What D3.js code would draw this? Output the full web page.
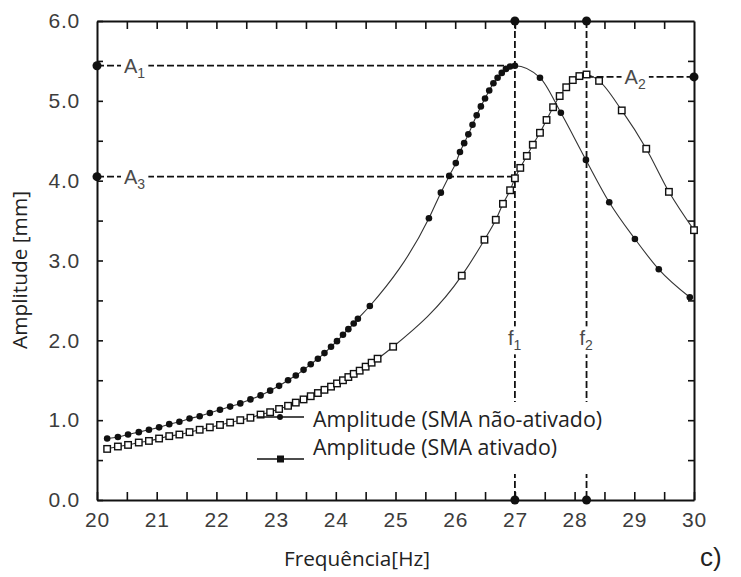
<!DOCTYPE html>
<html>
<head>
<meta charset="utf-8">
<script src="https://cdn.jsdelivr.net/npm/d3@7"></script>
<style>
  body { margin: 0; background: #fff; }
  svg { display: block; }
</style>
</head>
<body>
<svg id="chart" width="741" height="577"></svg>
<script>
// ---------- data ----------
const freqNaoAtivado = [20.17,20.35,20.52,20.7,20.87,21.04,21.21,21.38,21.55,21.72,21.89,22.06,22.23,22.4,22.57,22.74,22.9,23.05,23.2,23.33,23.46,23.58,23.7,23.81,23.92,24.02,24.12,24.21,24.3,24.37,24.57,25.56,25.76,25.9,26.01,26.08,26.15,26.22,26.29,26.36,26.43,26.5,26.57,26.64,26.71,26.78,26.85,26.92,27.0,27.42,27.77,28.19,28.58,29.01,29.41,29.93];
const ampNaoAtivado  = [0.77,0.79,0.82,0.85,0.88,0.91,0.95,0.98,1.02,1.05,1.09,1.13,1.17,1.21,1.26,1.31,1.37,1.43,1.5,1.56,1.63,1.7,1.77,1.84,1.92,1.99,2.07,2.14,2.21,2.27,2.43,3.53,3.85,4.06,4.22,4.36,4.47,4.58,4.7,4.82,4.93,5.03,5.13,5.22,5.29,5.35,5.4,5.43,5.44,5.29,4.85,4.26,3.73,3.27,2.89,2.54];

const freqAtivado = [20.17,20.35,20.52,20.7,20.87,21.04,21.21,21.38,21.55,21.72,21.89,22.06,22.23,22.4,22.57,22.74,22.9,23.05,23.2,23.33,23.46,23.58,23.7,23.81,23.92,24.02,24.12,24.21,24.3,24.4,24.5,24.6,24.7,24.96,26.11,26.49,26.68,26.8,26.92,27.0,27.09,27.2,27.3,27.42,27.53,27.64,27.75,27.86,27.97,28.08,28.2,28.41,28.79,29.2,29.58,30.0];
const ampAtivado  = [0.64,0.67,0.69,0.72,0.74,0.77,0.8,0.82,0.85,0.88,0.91,0.94,0.97,1.0,1.03,1.07,1.1,1.14,1.18,1.22,1.26,1.3,1.34,1.38,1.42,1.46,1.5,1.54,1.58,1.62,1.67,1.72,1.77,1.92,2.81,3.26,3.51,3.71,3.88,4.03,4.16,4.31,4.45,4.6,4.76,4.92,5.06,5.17,5.26,5.31,5.33,5.25,4.88,4.4,3.86,3.38];

const xTickValues = [20,21,22,23,24,25,26,27,28,29,30];
const yTickValues = [0,1,2,3,4,5,6];

const f1 = 27.0, f2 = 28.2;
const A1 = 5.44, A2 = 5.30, A3 = 4.05;

const legendLabels = ["Amplitude (SMA não-ativado)", "Amplitude (SMA ativado)"];

// ---------- layout ----------
const svg = d3.select("#chart");
const x = d3.scaleLinear().domain([20, 30]).range([97, 694]);
const y = d3.scaleLinear().domain([0, 6]).range([500, 21]);

const ink = "#111";
const labelColor = "#3c3c3c";
const tickFont = "'Liberation Sans', Arial, sans-serif";
const textFont = "'Open Sans', 'Noto Sans', sans-serif";

const halfX = d3.range(20, 30.01, 0.5);
const halfY = d3.range(0, 6.01, 0.5);

function styleAxis(g) {
  g.select(".domain").attr("stroke", ink).attr("stroke-width", 2);
  g.selectAll(".tick line").attr("stroke", ink).attr("stroke-width", 1.6);
  g.selectAll("text").attr("fill", labelColor).attr("font-family", tickFont)
    .attr("font-size", 21).attr("letter-spacing", "0.8px");
}

// fit a text element to a target width by scaling its font size
function fitWidth(sel, target) {
  sel.each(function() {
    const fs = parseFloat(this.getAttribute("font-size"));
    const w = this.getComputedTextLength();
    if (w > 0) this.setAttribute("font-size", (fs * target / w).toFixed(2));
  });
}

// bottom axis
svg.append("g").attr("transform", `translate(0,${y(0)})`)
  .call(d3.axisBottom(x).tickValues(halfX).tickSize(-8).tickSizeOuter(0).tickPadding(12)
    .tickFormat(d => xTickValues.includes(d) ? d3.format("d")(d) : ""))
  .call(styleAxis);
// top axis
svg.append("g").attr("transform", `translate(0,${y(6)})`)
  .call(d3.axisTop(x).tickValues(halfX.filter(d => d > 20 && d < 30)).tickSize(-8).tickSizeOuter(0).tickFormat(""))
  .call(styleAxis);
// left axis
svg.append("g").attr("transform", `translate(${x(20)},0)`)
  .call(d3.axisLeft(y).tickValues(halfY).tickSize(-6).tickSizeOuter(0).tickPadding(17)
    .tickFormat(d => yTickValues.includes(d) ? d3.format(".1f")(d) : ""))
  .call(styleAxis);
// right axis
svg.append("g").attr("transform", `translate(${x(30)},0)`)
  .call(d3.axisRight(y).tickValues(halfY.filter(d => d > 0 && d < 6)).tickSize(-6).tickSizeOuter(0).tickFormat(""))
  .call(styleAxis);

// ---------- reference dashed lines ----------
const refG = svg.append("g").attr("stroke", ink).attr("stroke-width", 1.8).attr("stroke-dasharray", "7,3").attr("fill", "none");
refG.append("line").attr("x1", x(20)).attr("x2", x(f1)).attr("y1", y(A1)).attr("y2", y(A1));
refG.append("line").attr("x1", x(20)).attr("x2", x(f1)).attr("y1", y(A3)).attr("y2", y(A3));
refG.append("line").attr("x1", x(f2)).attr("x2", x(30)).attr("y1", y(A2)).attr("y2", y(A2));
refG.append("line").attr("x1", x(f1)).attr("x2", x(f1)).attr("y1", y(6)).attr("y2", y(0));
refG.append("line").attr("x1", x(f2)).attr("x2", x(f2)).attr("y1", y(6)).attr("y2", y(0));

const dots = [[20, A1], [20, A3], [30, A2], [f1, 6], [f1, 0], [f2, 6], [f2, 0]];
svg.append("g").selectAll("circle").data(dots).join("circle")
  .attr("cx", d => x(d[0])).attr("cy", d => y(d[1])).attr("r", 4.5).attr("fill", ink);

// labels with white background
function subLabel(px, py, main, sub) {
  const g = svg.append("g");
  const t = g.append("text").attr("x", px).attr("y", py)
    .attr("font-family", tickFont).attr("font-size", 20).attr("fill", "#4a4a4a");
  t.append("tspan").text(main);
  t.append("tspan").attr("font-size", 14).attr("dy", 5).text(sub);
  const bb = t.node().getBBox();
  g.insert("rect", "text").attr("x", bb.x - 3).attr("y", bb.y - 1)
    .attr("width", bb.width + 6).attr("height", bb.height + 2).attr("fill", "#fff");
}
subLabel(x(20) + 27, y(A1) + 7, "A", "1");
subLabel(x(20) + 27, y(A3) + 7, "A", "3");
subLabel(x(f2) + 38, y(A2) + 7, "A", "2");
subLabel(x(f1) - 7, y(2.0) + 5, "f", "1");
subLabel(x(f2) - 7, y(2.0) + 5, "f", "2");

// legend background (hides the dashed verticals behind the legend)
svg.append("rect").attr("x", 308).attr("y", 402).attr("width", 300).attr("height", 72).attr("fill", "#fff");

// ---------- series ----------
const line = d3.line().x(d => x(d[0])).y(d => y(d[1])).curve(d3.curveMonotoneX);
const dataNao = d3.zip(freqNaoAtivado, ampNaoAtivado);
const dataAt = d3.zip(freqAtivado, ampAtivado);

svg.append("path").datum(dataAt).attr("d", line)
  .attr("fill", "none").attr("stroke", "#333").attr("stroke-width", 1.1);
svg.append("path").datum(dataNao).attr("d", line)
  .attr("fill", "none").attr("stroke", "#333").attr("stroke-width", 1.1);

svg.append("g").selectAll("rect").data(dataAt).join("rect")
  .attr("x", d => x(d[0]) - 3.25).attr("y", d => y(d[1]) - 3.25)
  .attr("width", 6.5).attr("height", 6.5)
  .attr("fill", "#fff").attr("stroke", ink).attr("stroke-width", 1.4);

svg.append("g").selectAll("circle").data(dataNao).join("circle")
  .attr("cx", d => x(d[0])).attr("cy", d => y(d[1])).attr("r", 3.3).attr("fill", ink);

// ---------- legend ----------
const lg = svg.append("g");
lg.append("line").attr("x1", 257).attr("x2", 304).attr("y1", 417).attr("y2", 417).attr("stroke", ink).attr("stroke-width", 1.6);
lg.append("circle").attr("cx", 280).attr("cy", 417).attr("r", 3).attr("fill", ink);
lg.append("line").attr("x1", 257).attr("x2", 304).attr("y1", 459).attr("y2", 459).attr("stroke", ink).attr("stroke-width", 1.6);
lg.append("rect").attr("x", 277).attr("y", 455.5).attr("width", 7).attr("height", 7).attr("fill", ink);

const legendTexts = lg.selectAll("text").data(legendLabels).join("text")
  .attr("x", 313).attr("y", (d, i) => 427 + i * 28)
  .attr("font-family", textFont).attr("font-size", 18.5).attr("fill", "#222")
  .text(d => d);
fitWidth(legendTexts.filter((d, i) => i === 0), 289);
fitWidth(legendTexts.filter((d, i) => i === 1), 244);

// ---------- axis titles ----------
const yTitle = svg.append("text").attr("transform", `translate(27,${270}) rotate(-90)`)
  .attr("text-anchor", "middle").attr("font-family", textFont).attr("font-size", 17).attr("fill", "#222")
  .text("Amplitude [mm]");
fitWidth(yTitle, 158);
const xTitle = svg.append("text").attr("x", 357).attr("y", 566)
  .attr("text-anchor", "middle").attr("font-family", textFont).attr("font-size", 17).attr("fill", "#222")
  .text("Frequência[Hz]");
fitWidth(xTitle, 146);
svg.append("text").attr("x", 700).attr("y", 566)
  .attr("font-family", tickFont).attr("font-size", 26).attr("fill", "#222")
  .text("c)");
</script>
</body>
</html>
